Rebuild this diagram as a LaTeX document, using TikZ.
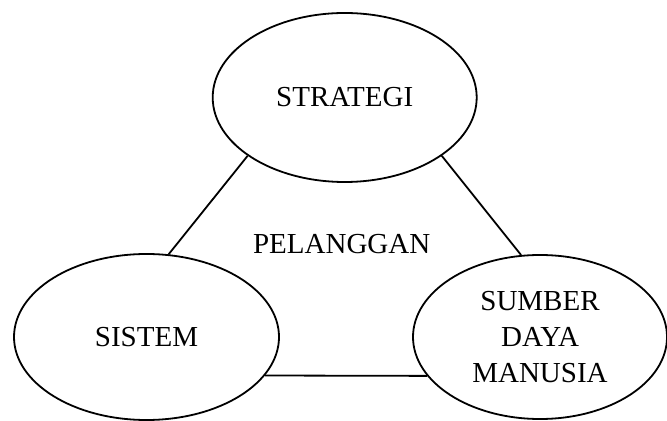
\documentclass[tikz,border=0pt]{standalone}
\usepackage{fontspec}
\setmainfont{Liberation Serif}
\usetikzlibrary{shapes.geometric}
\begin{document}
\begin{tikzpicture}[x=0.5pt,y=-0.5pt,
  oval/.style={draw=black,line width=0.9pt,ellipse,inner sep=0pt,align=center,
    font=\fontsize{14.5pt}{17.9pt}\selectfont},
  link/.style={draw=black,line width=0.9pt},
  lbl/.style={inner sep=0pt,font=\fontsize{14.5pt}{17.9pt}\selectfont}]
\useasboundingbox (0,0) rectangle (667,421);
\node[oval,minimum width=132pt,minimum height=84.5pt] (strategi) at (344.7,97.5) {STRATEGI};
\node[oval,minimum width=132.5pt,minimum height=83pt] (sistem) at (146.5,337) {SISTEM};
\node[oval,minimum width=127pt,minimum height=82pt] (sdm) at (540,337) {SUMBER\\DAYA\\MANUSIA};
\node[lbl] (pelanggan) at (341.7,244) {PELANGGAN};
\draw[link] (strategi.211.6) -- (sistem.75.1);
\draw[link] (strategi.-31.4) -- (sdm.103.2);
\draw[link] (sistem.-18.5) -- (sdm.199.3);
\end{tikzpicture}
\end{document}
